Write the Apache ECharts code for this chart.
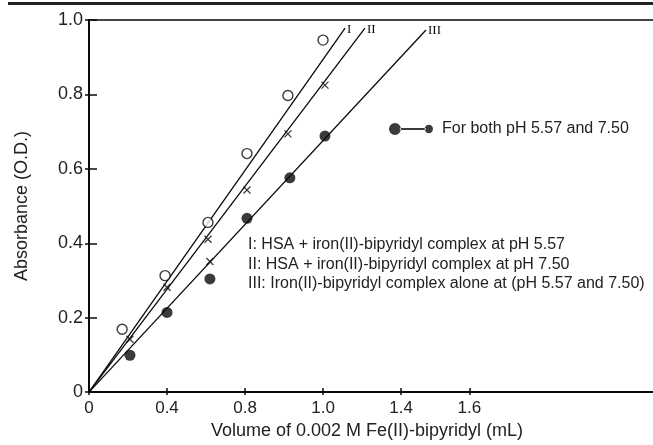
<!DOCTYPE html>
<html>
<head>
<meta charset="utf-8">
<script src="https://cdn.jsdelivr.net/npm/echarts@6/dist/echarts.min.js"></script>
<style>
html,body{margin:0;padding:0;background:#fff;}
#chart{width:653px;height:445px;}
</style>
</head>
<body>
<div id="chart"></div>
<script>
// ---- data ----
const circleX = [0.17, 0.39, 0.61, 0.81, 1.02, 1.20];
const circleY = [0.169, 0.313, 0.456, 0.641, 0.797, 0.946];
const crossX = [0.21, 0.40, 0.61, 0.62, 0.81, 1.02, 1.21];
const crossY = [0.142, 0.282, 0.411, 0.351, 0.543, 0.694, 0.825];
const filledX = [0.21, 0.40, 0.62, 0.81, 1.03, 1.21];
const filledY = [0.099, 0.214, 0.304, 0.467, 0.576, 0.688];
const lineNames = ['I', 'II', 'III'];
const lineEndX = [1.313, 1.415, 1.728];
const lineEndY = [0.978, 0.978, 0.973];
const xTickValues = [0, 0.4, 0.8, 1.2, 1.6, 1.95];
const xTickLabels = ['0', '0.4', '0.8', '1.0', '1.4', '1.6'];
const yTickValues = [0, 0.2, 0.4, 0.6, 0.8, 1.0];
const yTickLabels = ['0', '0.2', '0.4', '0.6', '0.8', '1.0'];
const annotations = [
  'I: HSA + iron(II)-bipyridyl complex at pH 5.57',
  'II: HSA + iron(II)-bipyridyl complex at pH 7.50',
  'III: Iron(II)-bipyridyl complex alone at (pH 5.57 and 7.50)'
];
const legendLabel = 'For both pH 5.57 and 7.50';
const xTitle = 'Volume of 0.002 M Fe(II)-bipyridyl (mL)';
const yTitle = 'Absorbance (O.D.)';

const SANS = 'Liberation Sans, Arial, sans-serif';
const SERIF = 'Liberation Serif, Times New Roman, serif';
const INK = '#0a0a0a';
const TXT = '#222';

function zip(a, b) { return a.map((v, i) => [v, b[i]]); }
function lookup(vals, labels, v) {
  for (let i = 0; i < vals.length; i++) if (Math.abs(vals[i] - v) < 1e-6) return labels[i];
  return '';
}

const X_MIN = 0, X_MAX = 2.892;

const chart = echarts.init(document.getElementById('chart'), null, {renderer: 'canvas'});

const lineSeries = lineNames.map((n, i) => ({
  type: 'line',
  name: n,
  xAxisIndex: 0, yAxisIndex: 0,
  data: [[0, 0], [lineEndX[i], lineEndY[i]]],
  symbol: 'none',
  lineStyle: {color: INK, width: 1.3},
  silent: true,
  z: 2,
  endLabel: {
    show: true, formatter: n, fontFamily: SERIF, fontSize: 13, color: INK,
    distance: 2, offset: [0, 1]
  }
}));

const option = {
  animation: false,
  backgroundColor: '#fff',
  grid: {left: 89, right: 0, top: 20, bottom: 44, containLabel: false},
  xAxis: [
    {
      type: 'value', min: X_MIN, max: X_MAX, position: 'bottom',
      axisLine: {show: true, onZero: false, lineStyle: {color: INK, width: 2}},
      axisTick: {show: true, inside: true, length: 4, customValues: xTickValues, lineStyle: {color: INK, width: 1.5}},
      axisLabel: {
        show: true, customValues: xTickValues, margin: 8,
        fontFamily: SANS, fontSize: 17, color: TXT,
        formatter: v => lookup(xTickValues, xTickLabels, v)
      },
      splitLine: {show: false},
      name: xTitle, nameLocation: 'middle', nameGap: 25,
      nameTextStyle: {fontFamily: SANS, fontSize: 18, color: TXT, padding: [0, 8, 0, 0]}
    },
    {
      type: 'value', min: X_MIN, max: X_MAX, position: 'top',
      axisLine: {show: true, onZero: false, lineStyle: {color: INK, width: 1.5}},
      axisTick: {show: false}, axisLabel: {show: false}, splitLine: {show: false}
    },
    {
      type: 'value', min: X_MIN, max: X_MAX, position: 'bottom',
      axisLine: {show: false, onZero: false},
      axisTick: {show: true, inside: false, length: 3, customValues: xTickValues, lineStyle: {color: INK, width: 1.5}},
      axisLabel: {show: false}, splitLine: {show: false}
    }
  ],
  yAxis: [
    {
      type: 'value', min: 0, max: 1.0, interval: 0.2, position: 'left',
      axisLine: {show: true, onZero: false, lineStyle: {color: INK, width: 2}},
      axisTick: {show: true, inside: true, length: 8, lineStyle: {color: INK, width: 1.5}},
      axisLabel: {
        show: true, margin: 6, fontFamily: SANS, fontSize: 18, color: TXT,
        formatter: v => lookup(yTickValues, yTickLabels, v)
      },
      splitLine: {show: false},
      name: yTitle, nameLocation: 'middle', nameGap: 58,
      nameTextStyle: {fontFamily: SANS, fontSize: 18, color: TXT}
    },
    {
      type: 'value', min: 0, max: 1.0, interval: 0.2, position: 'left',
      axisLine: {show: false, onZero: false},
      axisTick: {show: true, inside: false, length: 4, lineStyle: {color: INK, width: 1.5}},
      axisLabel: {show: false}, splitLine: {show: false}
    }
  ],
  legend: {
    show: true, left: 389, top: 121, padding: 0,
    itemWidth: 44, itemHeight: 12,
    data: [{
      name: legendLabel,
      icon: 'path://M0,6a6,6 0 1,0 12,0a6,6 0 1,0 -12,0Z M11,5H37V7H11Z M36,6a4.2,4.2 0 1,0 8.4,0a4.2,4.2 0 1,0 -8.4,0Z',
      itemStyle: {color: INK}
    }],
    textStyle: {fontFamily: SANS, fontSize: 16, color: TXT, padding: [0, 0, 0, 4]},
    selectedMode: false
  },
  graphic: [
    {type: 'rect', shape: {x: 8, y: 2, width: 645, height: 3}, style: {fill: '#222'}, silent: true, z: 10},
    ...annotations.map((t, i) => ({
      type: 'text', x: 248, y: 237 + i * 19.5,
      style: {text: t, font: '16px ' + SANS, fill: TXT}, silent: true
    }))
  ],
  series: [
    ...lineSeries,
    {
      type: 'scatter', name: 'I points', xAxisIndex: 0, yAxisIndex: 0,
      data: zip(circleX, circleY), symbol: 'circle', symbolSize: 10,
      itemStyle: {color: '#fff', borderColor: INK, borderWidth: 1.4}, z: 3
    },
    {
      type: 'scatter', name: 'II points', xAxisIndex: 0, yAxisIndex: 0,
      data: zip(crossX, crossY), symbol: 'path://M0,0L10,10M10,0L0,10', symbolSize: 7,
      itemStyle: {color: 'transparent', borderColor: INK, borderWidth: 1.3}, z: 3
    },
    {
      type: 'scatter', name: legendLabel, xAxisIndex: 0, yAxisIndex: 0,
      data: zip(filledX, filledY), symbol: 'circle', symbolSize: 11,
      itemStyle: {color: INK}, z: 3
    }
  ]
};

chart.setOption(option);
</script>
</body>
</html>
